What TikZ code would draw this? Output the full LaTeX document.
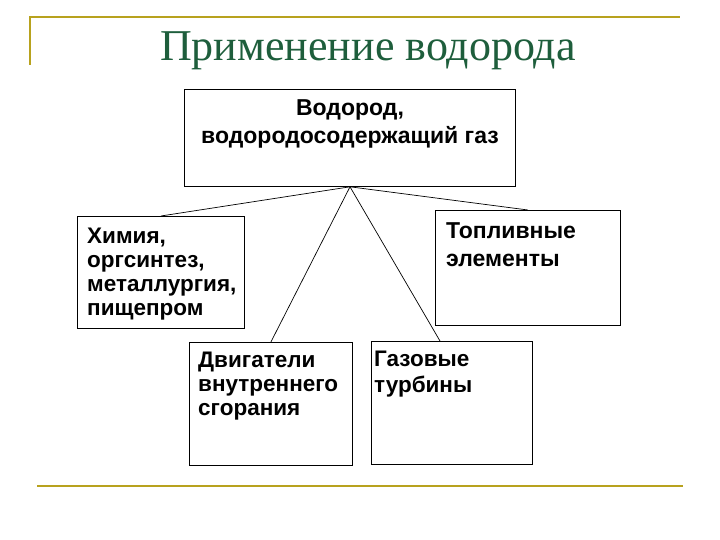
\documentclass[tikz,border=0pt]{standalone}
\usepackage{fontspec}
\setmainfont{Liberation Sans}
\newfontfamily\titlefont{Liberation Serif}
\usetikzlibrary{calc}
\definecolor{gold}{HTML}{B8A21E}
\definecolor{titlegreen}{HTML}{1E5E3C}
\begin{document}
\begin{tikzpicture}[x=1pt,y=-1pt,
  box/.style={draw,line width=0.8pt,inner sep=0,anchor=north west},
  txt/.style={anchor=north west,align=left,inner sep=0,font=\fontsize{22.5}{24}\selectfont\bfseries},
  link/.style={line width=0.7pt}]
\useasboundingbox (0,0) rectangle (720,540);
\draw[gold,line width=1.2pt] (30,65) -- (30,17) -- (680,17);
\draw[gold,line width=1.2pt] (37,486) -- (683,486);
\node[font=\titlefont\fontsize{44}{46}\selectfont,text=titlegreen] (title) at (368,51) {Применение водорода};
\node[box,minimum width=331,minimum height=97] (top) at (184,89) {};
\node[align=center,inner sep=0,font=\fontsize{23}{28}\selectfont\bfseries,anchor=north] (toptxt) at (350,99) {Водород,\\водородосодержащий газ};
\node[box,minimum width=167,minimum height=112] (l) at (77,216) {};
\node[txt] (ltxt) at (87,228) {Химия,\\оргсинтез,\\металлургия,\\пищепром};
\node[box,minimum width=185,minimum height=115] (r) at (435,210) {};
\node[txt,font=\fontsize{23}{28}\selectfont\bfseries] (rtxt) at (446,222) {Топливные\\элементы};
\node[box,minimum width=163,minimum height=123] (bl) at (189,342) {};
\node[txt] (bltxt) at (198,352) {Двигатели\\внутреннего\\сгорания};
\node[box,minimum width=161,minimum height=123] (br) at (371,341) {};
\node[txt,font=\fontsize{22.5}{26}\selectfont\bfseries] (brtxt) at (374,351) {Газовые\\турбины};
\coordinate (apex) at ($(top.south west)+(166,0)$);
\coordinate (brend) at ($(br.north west)+(69,0)$);
\draw[link] (apex) -- (l.north);
\draw[link] (apex) -- (r.north);
\draw[link] (apex) -- (bl.north);
\draw[link] (apex) -- (brend);
\end{tikzpicture}
\end{document}
